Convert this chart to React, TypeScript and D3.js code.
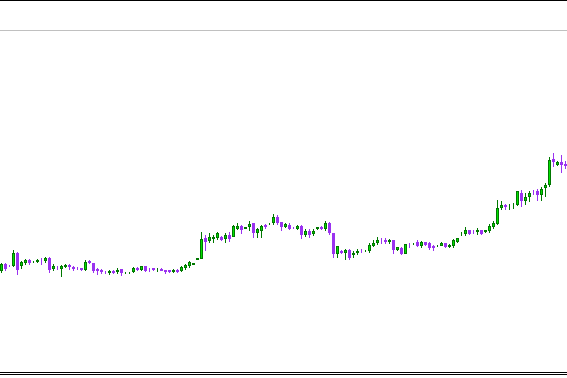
import React from "react";
import * as d3 from "d3";

const W = 567;
const H = 378;

// OHLC values (arbitrary price points), one candle per bar
const opens = [9,16,14.5,14,27,14,17,20,18,18.5,20.5,19,22,11,12.5,11,13,15,13.5,12,12,10,18.7,17,
11,10,8.2,7,8.7,7.7,11,8,7,7.7,12.3,9.7,13.7,10.3,11.7,9.7,11,9.7,9.7,8.3,10.3,9,12.3,14.3,
15.5,20.3,21.3,42,39.3,41,42,43.3,40.7,45.3,43.3,51.3,54,51.3,52.7,56.7,46.7,49.3,55.3,56,56.7,63.3,58,
53.3,55.3,52.2,51.3,54,45.3,49.3,46,50.7,53.3,51.3,56.7,46.7,26,29.3,26.7,30,24.7,26.7,29.5,28.7,28.7,34,36.7,
40.5,40.3,37.7,39.7,30.3,32.3,26.3,35.8,35.7,37.7,34.3,37.7,37,34.3,34.2,34.3,37,33,33.7,37.7,
46,46.3,50.3,48.5,47.7,49.7,47.7,49,53,56.3,71.7,75.3,75.5,76.3,75,86.7,79.3,82.7,88.8,89.3,84.7,92,94.7,120.7,115.3,118,116];
const highs = [17,17,15.5,30,28,19,21,21,19.5,21,22.5,23,23,16,14,15,16.5,16,14,13.5,12.5,19.7,19.7,17.5,
12.3,11,9,10.3,10.3,11.7,11.5,8.5,8.5,13,13,14.5,14.3,12.3,12.3,11.7,11.7,10.3,10.3,11,11,13.7,16,19,
17.5,22.5,48,45,47,44.7,48,44,46.7,48,54.7,56.7,55.3,53.3,58.7,57,52,54.7,56,57.3,66,65.3,58,
57,56.7,53.3,55.3,54.5,51.3,51.3,50.7,53,54,59.3,58,47.3,34.5,30,30.7,30.7,29.3,31.3,30.7,29.7,36.7,40,43.3,
41.7,41.7,41,40,33.5,33,36.3,37,37.5,40.3,39,38.3,37.7,35,35,37.7,37.2,35.7,41,42.3,
48.3,53,50.5,50.3,51.7,50.3,50.3,55.7,59,79.7,79,75.7,76.3,77,89.5,90,86.7,88.7,90.5,90.7,93.3,97.3,123.3,126.7,119,124.7,118.7];
const lows = [7,9.5,13,13,5,11,15,15,17.5,17,15,17,7,9,10,3,12,10.5,9,9.7,9.5,9,15.7,7,
5,6.3,6.3,5,5.7,6.3,4.3,5.7,6.3,7,9,9,7.7,7.7,9,7.7,9,5.7,7,7.5,7,8.3,10.3,12,
15,20,21,29.3,37.3,37.3,40,38.7,37.3,38,42.7,50,46,51,48.7,42,42,42,50.7,54.7,55.3,54.7,49.3,
52.5,50,50.7,50,41.3,43.3,42,44,50,50,48.7,45.3,22,22,26,20,20,22,25.3,26.7,28.3,27.3,32.7,35.3,
35.7,36.3,36.3,26.3,29,25,25.7,32.3,35.3,33,32.3,34.3,29.7,29,33.5,33.7,31.7,32.3,32.3,37,
43.7,43.7,45,45.7,45,45,47,47,51,55,69.7,69.7,70.3,70.7,74.5,72.7,74.7,78,85,79.3,79.3,83.3,93.3,113.3,114.5,106.7,110.7];
const closes = [16,11.5,14,27,10,18,20,17,19,20.5,20,22,10,14,12,14,15,13,11.5,11.7,10,17.7,17,9,
9,8.3,8,9,7.3,10.3,7,8.3,7.7,12.3,9.7,14,9,9,9.7,11,9,7.7,8.3,10.3,8.3,13,15,18.3,
17,22,41.3,38.3,43,43.3,46.7,40.3,44.7,41.3,54,54,50,52.7,56.3,46.7,50.7,54,53.3,56.3,62.7,56.7,53.3,
56,50.7,52,54,45.3,49.3,45.3,49.3,52.7,51.3,57.3,46.7,26,34,27.3,30,22,27.3,29.3,29.3,29.3,35.3,37.3,40,
40.3,38.3,39.7,30.3,33,26.3,35.7,35.7,37,34.3,37.7,35,32.3,31.7,34.3,37,33,35,39.7,41.7,
47.5,50.3,46.3,48.3,49.7,45.7,49.7,54.3,57,71.7,75,73,75.7,76.5,89,79.3,83.3,86.7,88.7,84.7,91.3,95.3,120,118,118,115.3,114];

const UP_FILL = "#00e000";
const UP_STROKE = "#007800";
const DOWN = "#9a32f0";

export default function App() {
  const n = opens.length;
  const x = d3.scaleLinear().domain([0, n - 1]).range([1.5, 565.5]);
  const y = d3.scaleLinear().domain([0, 130]).range([280, 150]);
  const idx = d3.range(n);

  return (
    <svg
      width={W}
      height={H}
      style={{ position: "fixed", left: 0, top: 0, background: "#fff" }}
      shapeRendering="crispEdges"
    >
      <rect x={0} y={0} width={W} height={H} fill="#fff" />
      <line x1={0} x2={W} y1={0.5} y2={0.5} stroke="#000" strokeWidth={1} />
      <line x1={0} x2={W} y1={30.5} y2={30.5} stroke="#c0c0c0" strokeWidth={1} />
      <line x1={0} x2={W} y1={372.5} y2={372.5} stroke="#000" strokeWidth={1} />
      <line x1={0} x2={W} y1={374.5} y2={374.5} stroke="#000" strokeWidth={1} />
      <g>
        {idx.map((i) => {
          const o = opens[i], h = highs[i], l = lows[i], c = closes[i];
          const up = c >= o;
          const cx = x(i);
          const top = Math.round(y(Math.max(o, c)));
          const bot = Math.round(y(Math.min(o, c)));
          const hh = Math.max(0, bot - top - 1);
          const wickCol = up ? UP_STROKE : DOWN;
          return (
            <g key={i}>
              <line
                x1={cx}
                x2={cx}
                y1={Math.round(y(h))}
                y2={Math.round(y(l))}
                stroke={wickCol}
                strokeWidth={1}
              />
              <rect
                x={cx - 1}
                y={top + 0.5}
                width={2}
                height={hh}
                fill={up ? UP_FILL : DOWN}
                stroke={up ? UP_STROKE : DOWN}
                strokeWidth={1}
              />
            </g>
          );
        })}
      </g>
    </svg>
  );
}
